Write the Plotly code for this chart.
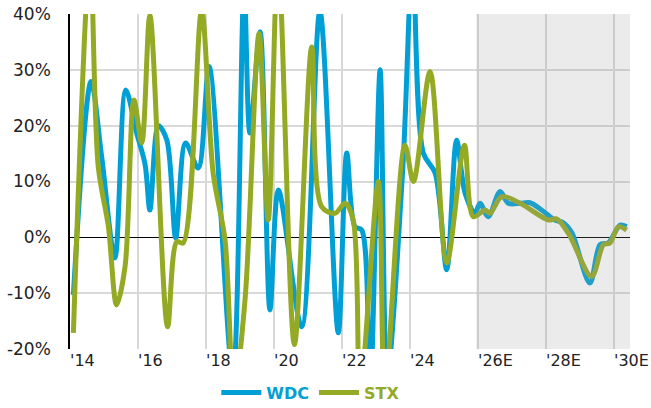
import plotly.graph_objects as go

# ---- data (decimal years, % growth) ----
wdc_x = [2014.10, 2014.62, 2014.93, 2015.32, 2015.64, 2015.96, 2016.21, 2016.35, 2016.60, 2016.85,
         2017.11, 2017.40, 2017.77, 2018.09, 2018.79, 2019.12, 2019.29, 2019.59, 2019.88, 2020.13,
         2020.81, 2021.35, 2021.89, 2022.14, 2022.38, 2022.58, 2022.82, 2023.12, 2023.33, 2023.79,
         2024.08, 2024.39, 2024.74, 2025.08, 2025.37, 2025.62, 2025.91, 2026.06, 2026.30, 2026.65,
         2026.89, 2027.24, 2027.53, 2027.87, 2028.26, 2028.51, 2028.76, 2029.29, 2029.59, 2029.83,
         2030.18, 2030.37]
wdc_y = [-10.3, 27.9, 14.5, -3.7, 26.4, 18.7, 13.0, 4.9, 20.0, 17.4,
         -0.1, 16.9, 12.4, 30.6, -25.0, 45.0, 18.7, 36.8, -13.0, 8.5,
         -16.0, 40.5, -17.1, 15.1, 1.9, 1.3, -28.0, 30.0, -25.0, 12.6,
         50.0, 15.1, 11.5, -5.8, 17.4, 7.9, 4.3, 6.1, 3.7, 8.2,
         6.1, 6.1, 6.2, 4.9, 3.1, 2.6, 0.8, -8.2, -1.3, -1.0,
         2.2, 1.9]

stx_x = [2014.10, 2014.59, 2014.83, 2015.13, 2015.37, 2015.62, 2015.88, 2016.11, 2016.35, 2016.87,
         2017.14, 2017.33, 2017.87, 2018.21, 2018.56, 2018.82, 2019.15, 2019.56, 2019.83, 2020.12,
         2020.60, 2021.11, 2021.40, 2021.79, 2022.09, 2022.33, 2022.53, 2023.07, 2023.26, 2023.85,
         2024.10, 2024.59, 2025.08, 2025.60, 2025.86, 2026.21, 2026.35, 2026.70, 2027.24, 2028.07,
         2028.31, 2028.66, 2029.34, 2029.69, 2029.88, 2030.13, 2030.37]
stx_y = [-17.1, 50.0, 12.7, 1.9, -12.1, -5.2, 24.6, 16.9, 39.8, -16.0,
         -0.8, -1.0, 40.5, 11.5, -0.5, -28.0, -11.0, 36.5, 3.1, 50.0,
         -19.2, 34.1, 5.5, 4.3, 6.1, 3.1, -28.0, 10.0, -28.0, 16.5,
         10.0, 29.7, -4.6, 16.5, 3.7, 4.9, 4.3, 7.3, 6.1, 3.1,
         3.3, 0.7, -7.0, -1.3, -1.0, 1.9, 1.3]

tick_vals = [2014, 2016, 2018, 2020, 2022, 2024, 2026, 2028, 2030]
tick_text = ["'14", "'16", "'18", "'20", "'22", "'24", "'26E", "'28E", "'30E"]
y_ticks = [-20, -10, 0, 10, 20, 30, 40]
forecast_start = 2025.95
x_end = 2030.47

BLUE = "#00A0D6"
GREEN = "#94AA24"
FONT = "DejaVu Sans"

fig = go.Figure()
fig.add_trace(go.Scatter(x=wdc_x, y=wdc_y, mode="lines",
                         line=dict(color=BLUE, width=5, shape="spline", smoothing=0.9),
                         name="<b><span style='color:%s'>WDC</span></b>" % BLUE))
fig.add_trace(go.Scatter(x=stx_x, y=stx_y, mode="lines",
                         line=dict(color=GREEN, width=5, shape="spline", smoothing=0.9),
                         name="<b><span style='color:%s'>STX</span></b>" % GREEN))

fig.add_shape(type="rect", xref="x", yref="paper", x0=forecast_start, x1=x_end, y0=0, y1=1,
              fillcolor="#9b9b9b", opacity=0.2, line=dict(width=0), layer="above")

fig.update_layout(
    width=651, height=408,
    margin=dict(l=70, r=21, t=14, b=59, autoexpand=False),
    paper_bgcolor="white", plot_bgcolor="white",
    font=dict(family=FONT, size=16, color="#222222"),
    showlegend=True,
    legend=dict(orientation="h", x=0.43, xanchor="center", y=-0.13, yanchor="middle",
                font=dict(size=16, family=FONT), itemwidth=40, tracegroupgap=0),
    xaxis=dict(range=[2014, x_end], tickvals=tick_vals, ticktext=tick_text,
               showgrid=True, gridcolor="#d9d9d9", gridwidth=1.5, zeroline=False,
               showline=False, ticks="", ticklabelposition="outside right",
               tickfont=dict(size=16)),
    yaxis=dict(range=[-20, 40], tickvals=y_ticks, ticktext=["%d%%" % v for v in y_ticks],
               showgrid=True, gridcolor="#d9d9d9", gridwidth=1.5,
               zeroline=True, zerolinecolor="black", zerolinewidth=1,
               showline=True, linecolor="black", linewidth=1.5, ticks="",
               ticklabelstandoff=14, tickfont=dict(size=17)),
)

fig.write_html("out.html")
